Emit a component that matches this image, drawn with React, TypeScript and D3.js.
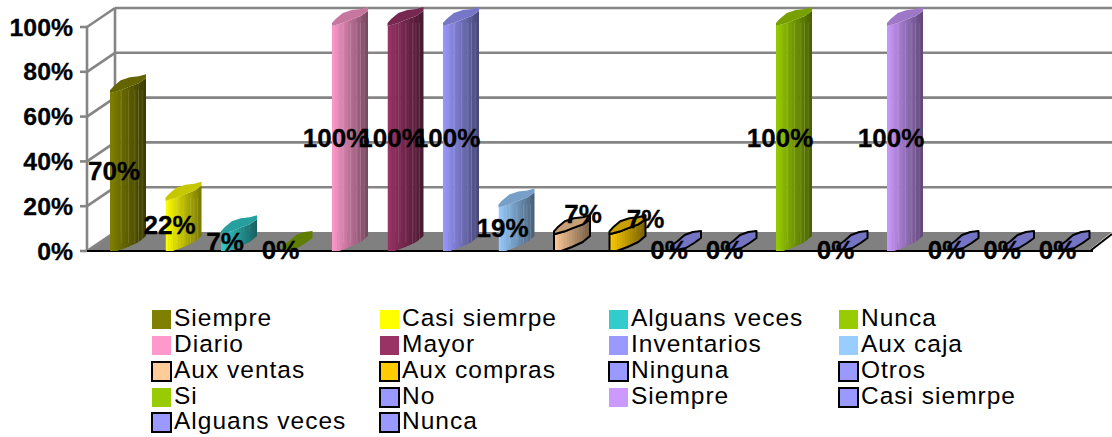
import React from "react";
import * as d3 from "d3";

// Survey answers, one column per answer, in chart order.
const answers = ["Siempre", "Casi siemrpe", "Alguans veces", "Nunca", "Diario", "Mayor", "Inventarios", "Aux caja", "Aux ventas", "Aux compras", "Ninguna", "Otros", "Si", "No", "Siempre", "Casi siemrpe", "Alguans veces", "Nunca"];
const shares = [70, 22, 7, 0, 100, 100, 100, 19, 7, 7, 0, 0, 100, 0, 100, 0, 0, 0];
const fills = ["#808000", "#FFFF00", "#33CCCC", "#99CC00", "#FF99CC", "#993366", "#9999FF", "#99CCFF", "#FFCC99", "#FFCC00", "#9999FF", "#9999FF", "#99CC00", "#9999FF", "#CC99FF", "#9999FF", "#9999FF", "#9999FF"];
const outlined = [false, false, false, false, false, false, false, false, true, true, true, true, false, true, false, true, true, true];
const axisTicks = [0, 20, 40, 60, 80, 100];

const W = 1112;
const H = 437;
const GRID = "#858585";
const FONT = "'Liberation Sans', Arial, sans-serif";

// Front plane and back wall of the 3D box share one value domain.
const yFront = d3.scaleLinear().domain([0, 100]).range([251, 27]);
const yBack = d3.scaleLinear().domain([0, 100]).range([232, 8]);
const xBand = d3.scaleBand<number>().domain(d3.range(answers.length)).range([110, 1109]);
const BAR_W = 36;

// Outline of the skewed column cap and foot, as (fraction of width, y offset).
const capTop: [number, number][] = [[0, 0], [0.1, -4], [0.3, -10], [0.55, -13], [0.8, -14], [1, -16]];
const capLow: [number, number][] = [[1, -12], [0.8, -7], [0.5, -3], [0.3, 0], [0, 3]];
const leafTop: [number, number][] = [[-0.1, -1], [0.15, -6], [0.4, -12], [0.7, -15], [1, -16]];
const leafLow: [number, number][] = [[1, -9], [0.75, -4], [0.45, 1], [0.15, 3], [-0.1, 2]];
const foot: [number, number][] = [[1, -15], [0.8, -9], [0.5, -4], [0.2, 0], [0, 0]];
const facets = [0.3, 0.5, 0.68, 0.78, 0.88];

const line = d3.line().curve(d3.curveLinear);

// Labels of the two short outlined columns were pulled away from their centres.
const labelShift: Record<number, [number, number]> = { 8: [25, -28], 9: [32, -23] };

const shade = (c: string, k: number) => {
  const r = d3.rgb(c);
  return d3.rgb(r.r * k, r.g * k, r.b * k).formatHex();
};

function Column({ i }: { i: number }) {
  const v = shares[i];
  const x0 = xBand(i)!;
  const base = fills[i];
  const stroke = outlined[i] ? "#000" : "none";
  const sw = outlined[i] ? 2 : 0;
  const top = yFront(v) - 4;

  if (v === 0) {
    // An empty column collapses to its cap lying on the floor.
    const inset = 0.24;
    const sx = (f: number) => x0 + BAR_W * (inset + (1 - inset) * f);
    const pts = [...leafTop, ...leafLow].map(([f, d]) => [sx(f), yFront(0) - 4 + d] as [number, number]);
    return <path d={line(pts)! + "Z"} fill={shade(base, outlined[i] ? 0.76 : 0.62)} stroke={stroke} strokeWidth={sw} strokeLinejoin="round" />;
  }

  const sx = (f: number) => x0 + BAR_W * f;
  const bodyPts: [number, number][] = [
    ...[...capLow].reverse().map(([f, d]) => [sx(f), top + d] as [number, number]),
    ...foot.map(([f, d]) => [sx(f), yFront(0) + d] as [number, number]),
  ];
  const capPts = [...capTop, ...capLow].map(([f, d]) => [sx(f), top + d] as [number, number]);
  const bodyD = line(bodyPts)! + "Z";
  const ramp = d3.interpolateRgb(shade(base, 0.98), shade(base, 0.48));
  const strips = d3.range(14);
  const clip = `col-${i}`;
  return (
    <g>
      <clipPath id={clip}><path d={bodyD} /></clipPath>
      <g clipPath={`url(#${clip})`}>
        {strips.map((s) => (
          <rect key={s} x={sx(s / 14)} y={top - 20} width={BAR_W / 14 + 0.5} height={yFront(0) - top + 30} fill={ramp(s / 13)} />
        ))}
        {v > 15 && facets.map((f) => (
          <rect key={f} x={sx(f)} y={top} width={0.8} height={yFront(0) - top - 8} fill="#fff" opacity={0.16} />
        ))}
      </g>
      <path d={bodyD} fill="none" stroke={stroke} strokeWidth={sw} strokeLinejoin="round" />
      <path d={line(capPts)! + "Z"} fill={shade(base, 0.78)} stroke={stroke} strokeWidth={sw} strokeLinejoin="round" />
    </g>
  );
}

// Legend grid: four columns, filled row by row.
const legendX = [152, 380, 609, 839];
const legendY = [310, 336, 362, 388, 413];
const SWATCH = 19;

export default function App() {
  return (
    <svg width={W} height={H} viewBox={`0 0 ${W} ${H}`} style={{ position: "absolute", left: 0, top: 0, background: "#fff" }}>
      {/* floor */}
      <path
        d={line([[87, yFront(0)], [115, yBack(0)], [W, yBack(0)], [1088, yFront(0)]])! + "Z"}
        fill="#808080"
      />
      {/* back wall, side wall and gridlines */}
      {axisTicks.map((t) => (
        <g key={t} stroke={GRID} strokeWidth={2.6} fill="none">
          {t > 0 && <line x1={115} x2={W} y1={yBack(t)} y2={yBack(t)} />}
          <line x1={87} x2={115} y1={yFront(t)} y2={yBack(t)} />
          <line x1={80} x2={87} y1={yFront(t)} y2={yFront(t)} />
        </g>
      ))}
      <line x1={115} x2={115} y1={yBack(100)} y2={yBack(0)} stroke={GRID} strokeWidth={2.6} />
      <line x1={87} x2={87} y1={yFront(100)} y2={yFront(0)} stroke={GRID} strokeWidth={2.6} />
      <line x1={87} x2={1093} y1={yFront(0)} y2={yFront(0)} stroke="#000" strokeWidth={2} />
      <line x1={1090} x2={W} y1={yFront(0)} y2={yBack(0) + 2} stroke="#000" strokeWidth={2} />

      {/* value axis */}
      {axisTicks.map((t) => (
        <text key={t} x={73} y={yFront(t) + 8.5} textAnchor="end" fontFamily={FONT} fontWeight="bold" fontSize={24.8} stroke="#000" strokeWidth={0.3} fill="#000">
          {t}%
        </text>
      ))}

      {shares.map((_, i) => <Column key={i} i={i} />)}

      {/* value labels sit above every column */}
      {shares.map((v, i) => {
        const [dx, dy] = labelShift[i] ?? [0, 0];
        return (
          <text key={i} x={xBand(i)! + 4 + dx} y={yFront(v / 2) + 7.5 + dy} textAnchor="middle" fontFamily={FONT} fontWeight="bold" fontSize={26} stroke="#000" strokeWidth={0.3} fill="#000">
            {v}%
          </text>
        );
      })}

      {/* legend */}
      {answers.map((name, i) => {
        const cx = legendX[i % 4];
        const cy = legendY[Math.floor(i / 4)];
        return (
          <g key={i}>
            <rect x={cx} y={cy} width={SWATCH} height={SWATCH} fill={fills[i]} stroke={outlined[i] ? "#000" : "none"} strokeWidth={outlined[i] ? 2 : 0} />
            <text x={cx + 22} y={cy + 16} fontFamily={FONT} fontSize={24.5} letterSpacing={1} fill="#000">
              {name}
            </text>
          </g>
        );
      })}
    </svg>
  );
}
